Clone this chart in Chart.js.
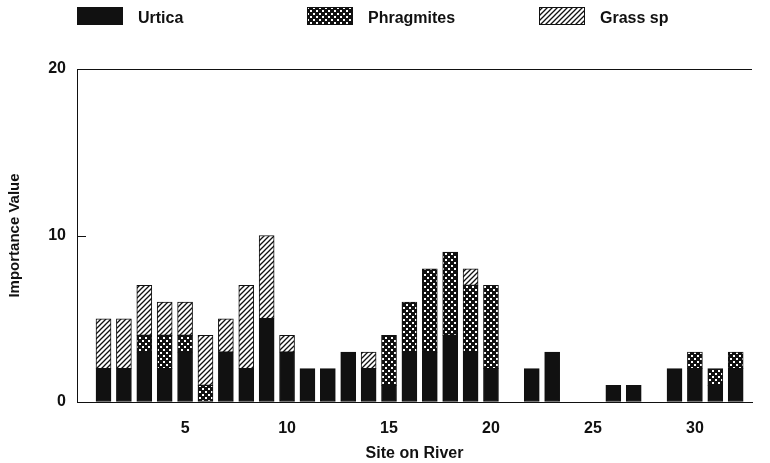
<!DOCTYPE html>
<html>
<head>
<meta charset="utf-8">
<script src="https://cdn.jsdelivr.net/npm/chart.js@4"></script>
<style>
  html, body { margin: 0; padding: 0; background: #fff; }
  #wrap { width: 770px; height: 463px; position: relative; }
</style>
</head>
<body>
<div id="wrap"><canvas id="riverChart"></canvas></div>
<script>
// Sites along the river (x categories)
const sites = [1, 2, 3, 4, 5, 6, 7, 8, 9, 10, 11, 12, 13, 14, 15, 16,
               17, 18, 19, 20, 21, 22, 23, 24, 25, 26, 27, 28, 29, 30, 31, 32];

// importance values per species, one per site
const urtica     = [2, 2, 3, 2, 3, 0, 3, 2, 5, 3, 2, 2, 3, 2, 1, 3,
                    3, 4, 3, 2, 0, 2, 3, 0, 0, 1, 1, 0, 2, 2, 1, 2];
const phragmites = [0, 0, 1, 2, 1, 1, 0, 0, 0, 0, 0, 0, 0, 0, 3, 3,
                    5, 5, 4, 5, 0, 0, 0, 0, 0, 0, 0, 0, 0, 1, 1, 1];
const grass      = [3, 3, 3, 2, 2, 3, 2, 5, 5, 1, 0, 0, 0, 1, 0, 0,
                    0, 0, 1, 0, 0, 0, 0, 0, 0, 0, 0, 0, 0, 0, 0, 0];

const seriesNames = ['Urtica', 'Phragmites', 'Grass sp'];
const xTicks = [5, 10, 15, 20, 25, 30];
const yTicks = [0, 10, 20];

const FONT = 'Liberation Sans, Arial, Helvetica, sans-serif';
const INK = '#111';

// checkered fill for Phragmites
function dotPattern() {
  const c = document.createElement('canvas');
  c.width = 6; c.height = 6;
  const g = c.getContext('2d');
  g.fillStyle = INK;
  g.fillRect(0, 0, 6, 6);
  g.fillStyle = '#fff';
  g.fillRect(1, 1, 2, 2);
  g.fillRect(4, 4, 2, 2);
  return g.createPattern(c, 'repeat');
}

// diagonal hatch for grass
function hatchPattern() {
  const c = document.createElement('canvas');
  c.width = 5; c.height = 5;
  const g = c.getContext('2d');
  g.fillStyle = '#fff';
  g.fillRect(0, 0, 5, 5);
  g.strokeStyle = INK;
  g.lineWidth = 1.3;
  g.beginPath();
  g.moveTo(-1, 6); g.lineTo(6, -1);
  g.moveTo(-1, 1); g.lineTo(1, -1);
  g.moveTo(4, 6); g.lineTo(6, 4);
  g.stroke();
  return g.createPattern(c, 'repeat');
}

const fills = [INK, dotPattern(), hatchPattern()];
const values = [urtica, phragmites, grass];

// legend drawn by hand so the items sit where the original has them
const legendX = [77, 307, 539];
const legendPlugin = {
  id: 'fixedLegend',
  afterDraw(chart) {
    const ctx = chart.ctx;
    ctx.save();
    chart.data.datasets.forEach((ds, i) => {
      ctx.fillStyle = ds.backgroundColor;
      ctx.fillRect(legendX[i], 7, 46, 18);
      ctx.strokeStyle = INK;
      ctx.lineWidth = 1;
      ctx.strokeRect(legendX[i] + 0.5, 7.5, 45, 17);
      ctx.fillStyle = INK;
      ctx.font = 'bold 16px ' + FONT;
      ctx.textBaseline = 'middle';
      ctx.fillText(ds.label, legendX[i] + 61, 19);
    });
    ctx.restore();
  }
};

// small tick marks pointing into the plot on the y axis
const innerTicks = {
  id: 'innerTicks',
  afterDraw(chart) {
    const y = chart.scales.y;
    const ctx = chart.ctx;
    ctx.save();
    ctx.strokeStyle = INK;
    ctx.lineWidth = 1;
    yTicks.forEach(v => {
      const py = Math.round(y.getPixelForValue(v)) + 0.5;
      ctx.beginPath();
      ctx.moveTo(y.right, py);
      ctx.lineTo(y.right + 9, py);
      ctx.stroke();
    });
    ctx.restore();
  }
};

new Chart(document.getElementById('riverChart'), {
  type: 'bar',
  data: {
    datasets: seriesNames.map((name, i) => ({
      label: name,
      data: sites.map((s, j) => ({ x: s, y: values[i][j] })),
      backgroundColor: fills[i],
      borderColor: INK,
      borderWidth: 1,
      borderSkipped: false,
      barThickness: 15
    }))
  },
  options: {
    responsive: true,
    maintainAspectRatio: false,
    animation: false,
    layout: { padding: { top: 69, right: 18, left: 0, bottom: 0 } },
    plugins: {
      legend: { display: false },
      tooltip: { enabled: false }
    },
    scales: {
      x: {
        type: 'linear',
        stacked: true,
        offset: false,
        min: -0.3,
        max: 32.8,
        afterBuildTicks: axis => { axis.ticks = xTicks.map(v => ({ value: v })); },
        afterFit: scale => { scale.height = 61; },
        grid: { display: false, drawTicks: false, offset: false },
        border: { display: true, color: INK, width: 1 },
        ticks: { color: INK, padding: 17, maxRotation: 0, font: { family: FONT, size: 16, weight: 'bold' } },
        title: {
          display: true,
          text: 'Site on River',
          color: INK,
          padding: { top: 4, bottom: 0 },
          font: { family: FONT, size: 16, weight: 'bold' }
        }
      },
      y: {
        stacked: true,
        min: 0,
        max: 20,
        afterBuildTicks: axis => { axis.ticks = yTicks.map(v => ({ value: v })); },
        afterFit: scale => { scale.width = 77; },
        grid: {
          drawTicks: false,
          color: ctx => (ctx.tick && ctx.tick.value === 20 ? INK : 'rgba(0,0,0,0)')
        },
        border: { display: true, color: INK, width: 1 },
        ticks: { color: INK, padding: 11, font: { family: FONT, size: 16, weight: 'bold' } },
        title: {
          display: true,
          text: 'Importance Value',
          color: INK,
          padding: { top: 6, bottom: 0 },
          font: { family: FONT, size: 15, weight: 'bold' }
        }
      }
    }
  },
  plugins: [legendPlugin, innerTicks]
});
</script>
</body>
</html>
